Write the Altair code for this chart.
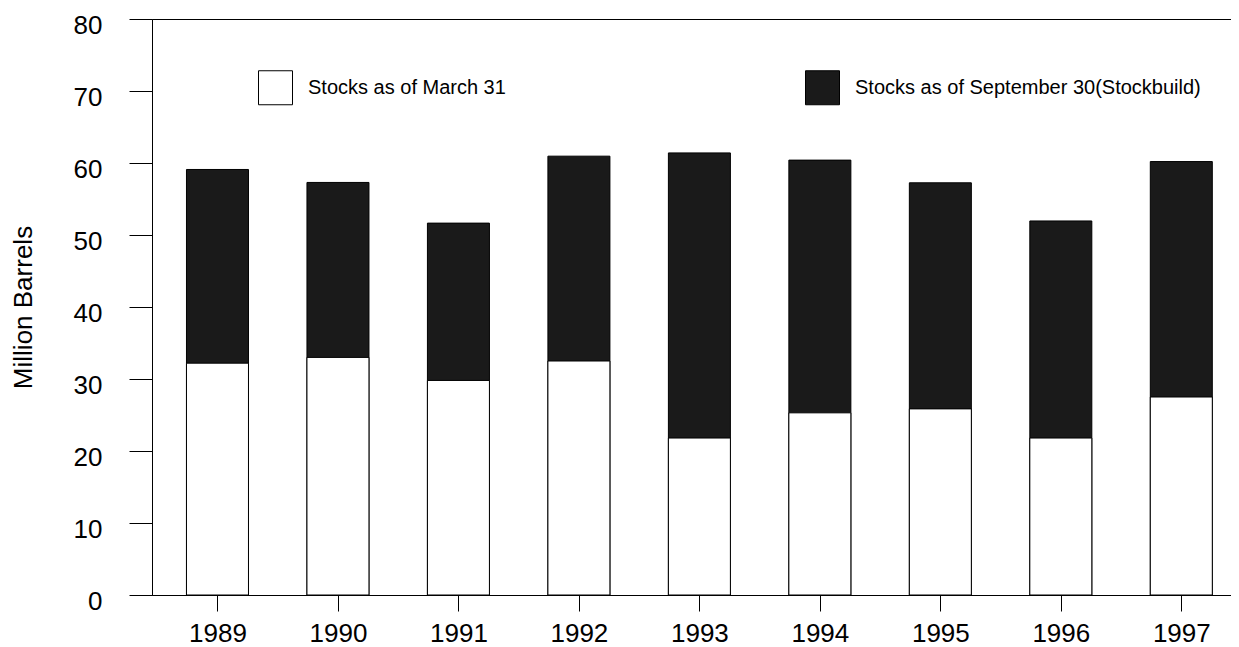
import altair as alt
import pandas as pd

years = [1989, 1990, 1991, 1992, 1993, 1994, 1995, 1996, 1997]
march_31 = [32.2, 33.0, 29.8, 32.5, 21.8, 25.3, 25.85, 21.8, 27.5]
sept_30 = [59.1, 57.3, 51.65, 60.95, 61.4, 60.4, 57.25, 51.95, 60.2]

march_label = "Stocks as of March 31"
sept_label = "Stocks as of September 30(Stockbuild)"

rows = []
for y, v in zip(years, sept_30):
    rows.append({"year": y, "series": sept_label, "value": v})
for y, v in zip(years, march_31):
    rows.append({"year": y, "series": march_label, "value": v})
df = pd.DataFrame(rows)

chart = alt.Chart(df).mark_bar(size=62, stroke="black", strokeWidth=1).encode(
    x=alt.X(
        "year:Q",
        scale=alt.Scale(domain=[1988.498, 1997.371], nice=False, zero=False),
        axis=alt.Axis(
            values=years, format="d", title=None, grid=False,
            tickSize=16, tickColor="black", domainColor="black",
            labelFont="Liberation Sans", labelFontSize=26, labelColor="black",
            labelPadding=9,
        ),
    ),
    y=alt.Y(
        "value:Q",
        stack=None,
        scale=alt.Scale(domain=[0, 80], nice=False),
        axis=alt.Axis(
            values=[0, 10, 20, 30, 40, 50, 60, 70, 80], title="Million Barrels",
            grid=False, tickSize=23, tickColor="black", domainColor="black",
            labelFont="Liberation Sans", labelFontSize=26, labelColor="black",
            labelPadding=27, labelOffset=6,
            titleFont="Liberation Sans", titleFontSize=26, titleFontWeight="normal",
            titleColor="black", titlePadding=37,
        ),
    ),
    color=alt.Color(
        "series:N",
        scale=alt.Scale(domain=[march_label, sept_label], range=["white", "#1a1a1a"]),
        legend=alt.Legend(
            title=None, orient="none", legendX=106, legendY=51,
            direction="horizontal", columns=2, columnPadding=297, padding=0,
            symbolType="square", symbolSize=1156, symbolStrokeColor="black",
            symbolStrokeWidth=1, symbolOpacity=1,
            labelFont="Liberation Sans", labelFontSize=20, labelColor="black",
            labelOffset=15, labelLimit=0,
        ),
    ),
).properties(
    width=1079, height=576,
    autosize=alt.AutoSizeParams(type="none"),
    padding={"left": 144, "top": 11, "right": 0, "bottom": 52},
).configure_view(stroke="black", strokeWidth=1)

chart.save("out.html", embed_options={"renderer": "svg", "actions": False})
